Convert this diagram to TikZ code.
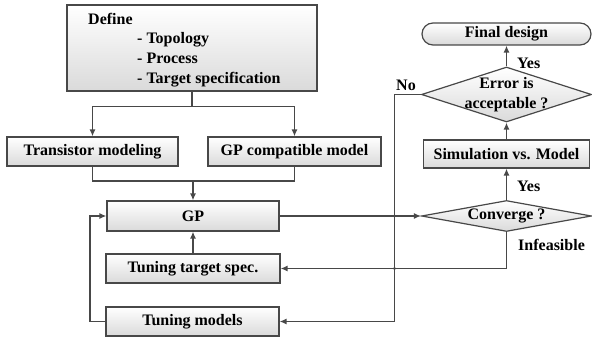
\documentclass[tikz,border=0pt]{standalone}
\usepackage{fontspec}
\setmainfont{Liberation Serif}
\usetikzlibrary{arrows.meta,shapes.misc,shapes.geometric}
\definecolor{edgec}{RGB}{72,72,72}
\definecolor{fillb}{RGB}{218,218,218}
\tikzset{
  shd/.style={top color=white, bottom color=fillb, draw=edgec, line width=1.2pt},
  box/.style={shd, rectangle, inner sep=0pt, font=\fontsize{16}{20}\selectfont\bfseries},
  dia/.style={shd, diamond, inner sep=0pt},
  lbl/.style={inner sep=0pt, font=\fontsize{16}{20}\selectfont\bfseries},
  conn/.style={draw=edgec, line width=1.3pt},
  arr/.style={conn, -{Latex[length=7pt,width=6pt]}},
}
\begin{document}
\begin{tikzpicture}[x=1pt,y=-1pt]
\useasboundingbox (0,0) rectangle (592,342);
% Define box
\node[shd, chamfered rectangle, chamfered rectangle corners=north west,
      chamfered rectangle xsep=12pt, chamfered rectangle ysep=12pt,
      minimum width=250pt, minimum height=86pt, inner sep=0pt] (define) at (192,48) {};
\node[lbl, anchor=base west] (deftitle) at (88,24.3) {Define};
\node[lbl, anchor=base west] (def1) at (137,43.5) {- Topology};
\node[lbl, anchor=base west] (def2) at (137,63.3) {- Process};
\node[lbl, anchor=base west] (def3) at (137,83.1) {- Target specification};
% left column
\node[box, minimum width=171pt, minimum height=29pt] (trans) at (92.5,151.5) {Transistor modeling};
\node[box, minimum width=173pt, minimum height=29pt] (gpc) at (294.5,151.5) {GP compatible model};
\node[box, minimum width=172pt, minimum height=30pt] (gp) at (193,216) {GP};
\node[box, minimum width=174pt, minimum height=29pt] (tts) at (193,268.5) {Tuning target spec.};
\node[box, minimum width=173pt, minimum height=29pt] (tm) at (192.5,321.5) {Tuning models};
% right column
\node[box, rounded corners=11pt, minimum width=169pt, minimum height=22pt] (final) at (506.5,34) {Final design};
\node[dia, minimum width=170pt, minimum height=55pt] (err) at (506.5,94.5) {};
\node[lbl, align=center] (errtext) at (506.5,95) {Error is\\acceptable ?};
\node[box, minimum width=166pt, minimum height=28pt] (sim) at (506.5,154) {Simulation vs. Model};
\node[dia, minimum width=170pt, minimum height=31pt] (conv) at (506.5,216) {};
\node[lbl] (convtext) at (506.5,216) {Converge ?};
% labels
\node[lbl, anchor=west] (yes1) at (517,63) {Yes};
\node[lbl, anchor=west] (yes2) at (517,186) {Yes};
\node[lbl, anchor=west] (infeas) at (518,245) {Infeasible};
\node[lbl] (no) at (406,85) {No};
% connectors
\draw[conn] (define.south) -- ++(0,15) coordinate (split);
\draw[arr] (split) -| (trans.north);
\draw[arr] (split) -| (gpc.north);
\coordinate (merge) at (193,181);
\draw[conn] (trans.south) |- (merge) -| (gpc.south);
\draw[arr] (merge) -- (gp.north);
\draw[arr] (tts.north) -- (gp.south);
\draw[arr] (tm.west) -- ++(-15.5,0) |- (gp.west);
\draw[arr] (gp.east) -- (conv.west);
\draw[arr] (conv.north) -- (sim.south);
\draw[arr] (sim.north) -- (err.south);
\draw[arr] (err.north) -- (final.south);
\draw[arr] (conv.south) |- (tts.east);
\draw[arr] (err.west) -- ++(-26.5,0) coordinate (nocorner) |- (tm.east);
\fill[edgec] (nocorner |- gp.east) circle (1.6pt);
\fill[edgec] (nocorner |- tts.east) circle (1.6pt);
\end{tikzpicture}
\end{document}
